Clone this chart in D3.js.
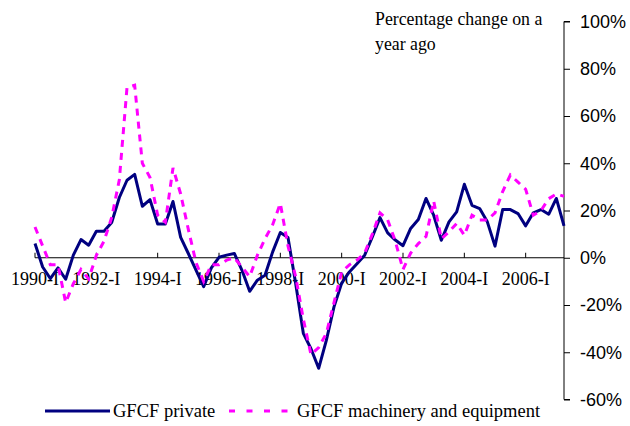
<!DOCTYPE html>
<html>
<head>
<meta charset="utf-8">
<script src="https://cdn.jsdelivr.net/npm/d3@7"></script>
<style>
html, body { margin: 0; padding: 0; background: #ffffff; }
svg { display: block; }
</style>
</head>
<body>
<svg id="chart" width="630" height="426"></svg>
<script>
// ---- data ----
const startYear = 1990;
const quarterNames = ["I", "II", "III", "IV"];
const nQuarters = 70; // 1990-I .. 2007-II
const categories = d3.range(nQuarters).map(i => (startYear + Math.floor(i / 4)) + "-" + quarterNames[i % 4]);

const gfcfPrivate = [
  6.0, -3.9, -8.8, -4.3, -9.1, 1.1, 7.7, 5.3, 11.2, 11.2,
  14.9, 25.5, 32.8, 35.3, 21.8, 24.6, 14.3, 14.3, 23.8, 8.6,
  1.8, -5.2, -12.2, -4.3, 0.2, 1.1, 1.8, -5.3, -14.2, -9.5,
  -7.4, 2.5, 10.7, 8.6, -10.9, -32.0, -38.5, -46.8, -35.0, -20.8,
  -10.7, -6.0, -2.5, 1.1, 8.8, 17.0, 10.5, 7.5, 5.1, 12.4,
  16.2, 25.1, 18.0, 7.4, 15.2, 19.4, 31.1, 22.2, 20.8, 15.2,
  4.9, 20.4, 20.4, 18.7, 13.5, 19.0, 20.4, 18.4, 25.1, 13.5
];

const gfcfMachinery = [
  13, 5, -3, -3, -19, -11, -5, -9, 1, 7,
  17, 33, 72, 73, 40, 34, 18, 15, 38, 27,
  12, -2, -10, -3, -3, -1, 0, -4, -8, 1,
  8, 14, 23, 5, -8, -26, -41, -38, -32, -19,
  -6, -3, -1, 2, 10, 19, 16, 7, -5, 2,
  6, 9, 24, 8, 11, 14.5, 9.5, 18, 16, 16,
  19, 28, 35, 32, 29, 18, 20, 25, 27, 26
];

const xTickLabels = ["1990-I", "1992-I", "1994-I", "1996-I", "1998-I", "2000-I", "2002-I", "2004-I", "2006-I"];
const yTickValues = [-60, -40, -20, 0, 20, 40, 60, 80, 100];
const seriesNames = ["GFCF private", "GFCF machinery and equipment"];
const titleLines = ["Percentage change on a", "year ago"];

// ---- layout ----
const svg = d3.select("#chart");
const plotLeft = 35, plotRight = 564, plotTop = 21.5, plotBottom = 399.5;

const x = d3.scaleLinear().domain([0, nQuarters - 1]).range([plotLeft, plotRight]);
const y = d3.scaleLinear().domain([-60, 100]).range([plotBottom, plotTop]);

const serif = "'Liberation Serif', 'Times New Roman', serif";
const sans = "'Liberation Sans', Arial, sans-serif";

// Right value axis
const yAxis = d3.axisRight(y).tickValues(yTickValues).tickSize(6).tickPadding(10)
  .tickFormat(d => d + "%");
const gy = svg.append("g").attr("transform", `translate(${plotRight},0)`).call(yAxis);
gy.select(".domain").attr("stroke", "#000").attr("stroke-width", 1)
  .attr("d", `M6,${plotTop}H0V${plotBottom}H6`);
gy.selectAll(".tick line").attr("stroke", "#000");
gy.selectAll(".tick text").attr("font-family", sans).attr("font-size", 18).attr("fill", "#000");

// Category axis along 0%
const tickIdx = xTickLabels.map(l => categories.indexOf(l));
const gx = svg.append("g").attr("transform", `translate(0,${y(0)})`);
gx.append("line").attr("x1", plotLeft).attr("x2", plotRight).attr("y1", 0).attr("y2", 0)
  .attr("stroke", "#000").attr("stroke-width", 1);
gx.selectAll("line.tk").data(tickIdx).enter().append("line").attr("class", "tk")
  .attr("x1", d => x(d)).attr("x2", d => x(d)).attr("y1", 0).attr("y2", -5)
  .attr("stroke", "#000").attr("stroke-width", 1);
gx.selectAll("text").data(xTickLabels).enter().append("text")
  .attr("x", (d, i) => x(tickIdx[i]))
  .attr("y", 27)
  .attr("text-anchor", "middle")
  .attr("font-family", serif).attr("font-size", 18).attr("fill", "#000")
  .text(d => d);

// Lines
const line = d3.line().x((d, i) => x(i)).y(d => y(d));
svg.append("path").datum(gfcfPrivate).attr("d", line)
  .attr("fill", "none").attr("stroke", "#000080").attr("stroke-width", 3)
  .attr("stroke-linejoin", "round");
svg.append("path").datum(gfcfMachinery).attr("d", line)
  .attr("fill", "none").attr("stroke", "#ff00ff").attr("stroke-width", 3)
  .attr("stroke-dasharray", "7,6");

// Title
svg.append("g").selectAll("text").data(titleLines).enter().append("text")
  .attr("x", 375).attr("y", (d, i) => 25 + i * 25)
  .attr("font-family", serif).attr("font-size", 17.8).attr("fill", "#000")
  .text(d => d);

// Legend
const lg = svg.append("g");
lg.append("line").attr("x1", 45).attr("x2", 110).attr("y1", 411).attr("y2", 411)
  .attr("stroke", "#000080").attr("stroke-width", 3);
lg.append("text").attr("x", 113).attr("y", 417).attr("font-family", serif).attr("font-size", 18.5)
  .attr("fill", "#000").text(seriesNames[0]);
lg.append("line").attr("x1", 229).attr("x2", 288).attr("y1", 411).attr("y2", 411)
  .attr("stroke", "#ff00ff").attr("stroke-width", 3).attr("stroke-dasharray", "6,11.5");
lg.append("text").attr("x", 297).attr("y", 417).attr("font-family", serif).attr("font-size", 18.5)
  .attr("fill", "#000").text(seriesNames[1]);
</script>
</body>
</html>
